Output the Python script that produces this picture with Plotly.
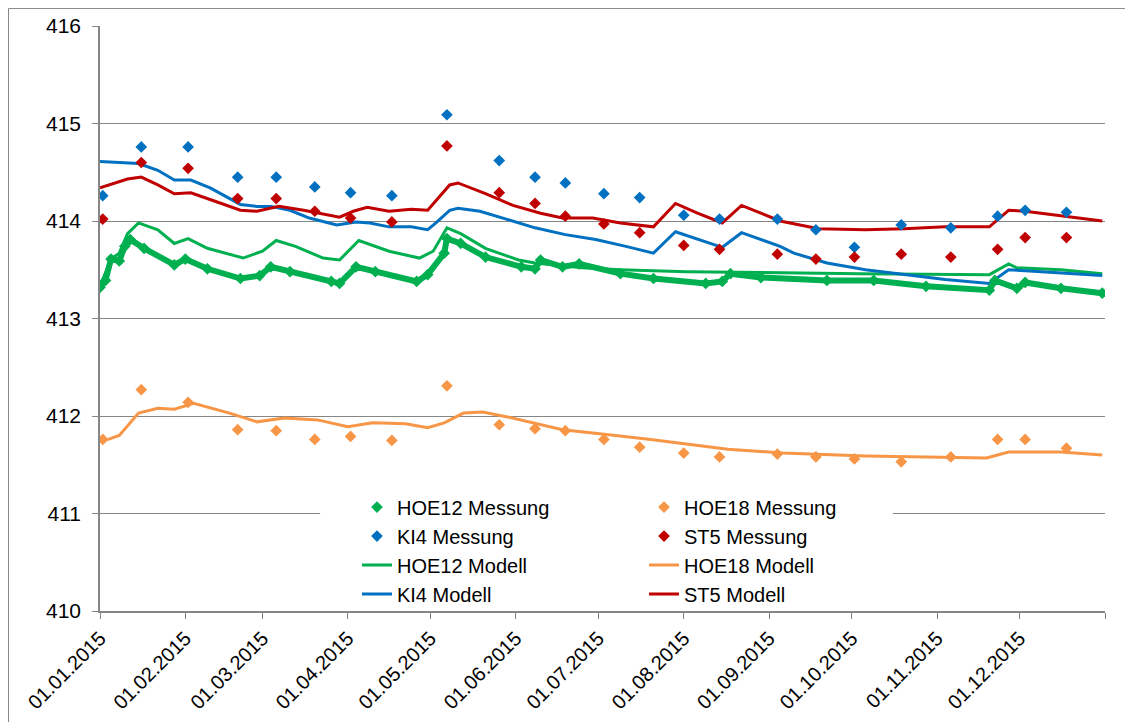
import plotly.graph_objects as go

###########################################################################################################################################################################
# Data

# dates of the single measurements (HOE18, KI4, ST5)
meas_dates = ['2015-01-02', '2015-01-16', '2015-02-02', '2015-02-20', '2015-03-06', '2015-03-20',
              '2015-04-02', '2015-04-17', '2015-05-07', '2015-05-26', '2015-06-08', '2015-06-19',
              '2015-07-03', '2015-07-16', '2015-08-01', '2015-08-14', '2015-09-04', '2015-09-18',
              '2015-10-02', '2015-10-19', '2015-11-06', '2015-11-23', '2015-12-03', '2015-12-18']
hoe18_meas = [411.76, 412.27, 412.14, 411.86, 411.85, 411.76, 411.79, 411.75, 412.31, 411.91, 411.87, 411.85,
              411.76, 411.68, 411.62, 411.58, 411.61, 411.58, 411.56, 411.53, 411.58, 411.76, 411.76, 411.67]
ki4_meas = [414.26, 414.76, 414.76, 414.45, 414.45, 414.35, 414.29, 414.26, 415.09, 414.62, 414.45, 414.39,
            414.28, 414.24, 414.06, 414.02, 414.02, 413.91, 413.73, 413.96, 413.93, 414.05, 414.11, 414.09]
st5_meas = [414.02, 414.60, 414.54, 414.23, 414.23, 414.10, 414.03, 413.99, 414.77, 414.29, 414.18, 414.05,
            413.97, 413.88, 413.75, 413.71, 413.66, 413.61, 413.63, 413.66, 413.63, 413.71, 413.83, 413.83]

# HOE12 is a logger series (dense)
hoe12_meas_dates = ['2015-01-01', '2015-01-03', '2015-01-05', '2015-01-08', '2015-01-10', '2015-01-12',
                    '2015-01-17', '2015-01-28', '2015-02-01', '2015-02-09', '2015-02-21', '2015-02-28',
                    '2015-03-04', '2015-03-11', '2015-03-26', '2015-03-29', '2015-04-04', '2015-04-11',
                    '2015-04-26', '2015-04-30', '2015-05-06', '2015-05-07', '2015-05-12', '2015-05-21',
                    '2015-06-03', '2015-06-08', '2015-06-10', '2015-06-18', '2015-06-24', '2015-07-09',
                    '2015-07-21', '2015-08-09', '2015-08-15', '2015-08-18', '2015-08-29', '2015-09-22',
                    '2015-10-09', '2015-10-28', '2015-11-20', '2015-11-22', '2015-11-30', '2015-12-03',
                    '2015-12-16', '2015-12-31']
hoe12_meas = [413.32, 413.39, 413.61, 413.59, 413.74, 413.81, 413.72, 413.55, 413.61, 413.51, 413.41, 413.44,
              413.53, 413.48, 413.38, 413.36, 413.53, 413.48, 413.38, 413.45, 413.67, 413.82, 413.77, 413.63,
              413.53, 413.51, 413.60, 413.53, 413.56, 413.46, 413.41, 413.36, 413.38, 413.46, 413.42, 413.39,
              413.39, 413.33, 413.29, 413.39, 413.31, 413.37, 413.31, 413.26]

# model results
hoe12_mod_dates = ['2015-01-01', '2015-01-05', '2015-01-08', '2015-01-11', '2015-01-15', '2015-01-22',
                   '2015-01-28', '2015-02-02', '2015-02-09', '2015-02-22', '2015-03-01', '2015-03-06',
                   '2015-03-13', '2015-03-23', '2015-03-29', '2015-04-05', '2015-04-16', '2015-04-27',
                   '2015-05-02', '2015-05-07', '2015-05-12', '2015-05-21', '2015-06-02', '2015-06-08',
                   '2015-06-25', '2015-07-09', '2015-08-02', '2015-08-29', '2015-10-04', '2015-11-20',
                   '2015-11-24', '2015-11-27', '2015-11-30', '2015-12-16', '2015-12-31']
hoe12_mod = [413.33, 413.61, 413.67, 413.87, 413.98, 413.91, 413.77, 413.82, 413.72, 413.62, 413.69, 413.80,
             413.74, 413.62, 413.60, 413.80, 413.69, 413.62, 413.69, 413.93, 413.87, 413.72, 413.60, 413.57,
             413.52, 413.50, 413.48, 413.47, 413.46, 413.45, 413.51, 413.56, 413.52, 413.50, 413.46]

hoe18_mod_dates = ['2015-01-01', '2015-01-04', '2015-01-08', '2015-01-15', '2015-01-22', '2015-01-28',
                   '2015-02-04', '2015-02-17', '2015-02-27', '2015-03-09', '2015-03-21', '2015-04-01',
                   '2015-04-10', '2015-04-22', '2015-04-30', '2015-05-06', '2015-05-13', '2015-05-20',
                   '2015-05-29', '2015-06-07', '2015-06-18', '2015-07-04', '2015-07-20', '2015-08-17',
                   '2015-09-06', '2015-10-06', '2015-11-19', '2015-11-27', '2015-12-16', '2015-12-31']
hoe18_mod = [411.75, 411.76, 411.80, 412.03, 412.08, 412.07, 412.13, 412.03, 411.94, 411.98, 411.96, 411.89,
             411.93, 411.92, 411.88, 411.93, 412.03, 412.04, 411.99, 411.93, 411.86, 411.81, 411.76, 411.66,
             411.62, 411.59, 411.57, 411.63, 411.63, 411.60]

ki4_mod_dates = ['2015-01-01', '2015-01-09', '2015-01-15', '2015-01-22', '2015-01-28', '2015-02-03',
                 '2015-02-10', '2015-02-21', '2015-02-27', '2015-03-04', '2015-03-11', '2015-03-18',
                 '2015-03-28', '2015-04-04', '2015-04-09', '2015-04-16', '2015-04-24', '2015-04-30',
                 '2015-05-03', '2015-05-08', '2015-05-11', '2015-05-19', '2015-05-27', '2015-06-08',
                 '2015-06-19', '2015-06-30', '2015-07-11', '2015-07-21', '2015-07-29', '2015-08-15',
                 '2015-08-22', '2015-09-05', '2015-09-10', '2015-09-22', '2015-10-06', '2015-10-21',
                 '2015-11-04', '2015-11-20', '2015-11-27', '2015-12-03', '2015-12-31']
ki4_mod = [414.61, 414.60, 414.59, 414.52, 414.42, 414.42, 414.34, 414.17, 414.15, 414.15, 414.11, 414.03,
           413.96, 413.99, 413.98, 413.94, 413.94, 413.91, 413.98, 414.11, 414.13, 414.10, 414.03, 413.93,
           413.86, 413.81, 413.74, 413.67, 413.89, 413.73, 413.88, 413.74, 413.67, 413.57, 413.50, 413.45,
           413.40, 413.36, 413.50, 413.49, 413.44]

st5_mod_dates = ['2015-01-01', '2015-01-07', '2015-01-11', '2015-01-16', '2015-01-22', '2015-01-28',
                 '2015-02-03', '2015-02-11', '2015-02-21', '2015-02-27', '2015-03-07', '2015-03-16',
                 '2015-03-29', '2015-04-03', '2015-04-08', '2015-04-16', '2015-04-24', '2015-04-30',
                 '2015-05-08', '2015-05-11', '2015-05-21', '2015-05-31', '2015-06-10', '2015-06-18',
                 '2015-06-29', '2015-07-09', '2015-07-21', '2015-07-29', '2015-08-06', '2015-08-15',
                 '2015-08-22', '2015-08-29', '2015-09-05', '2015-09-19', '2015-10-06', '2015-10-20',
                 '2015-11-04', '2015-11-20', '2015-11-27', '2015-12-03', '2015-12-19', '2015-12-31']
st5_mod = [414.34, 414.39, 414.43, 414.45, 414.37, 414.28, 414.29, 414.21, 414.11, 414.10, 414.15, 414.11,
           414.04, 414.10, 414.14, 414.10, 414.12, 414.11, 414.37, 414.39, 414.28, 414.16, 414.08, 414.03,
           414.03, 413.98, 413.94, 414.18, 414.08, 413.98, 414.16, 414.08, 414.00, 413.92, 413.91, 413.92,
           413.94, 413.94, 414.11, 414.10, 414.04, 414.00]

# x axis ticks
month_ticks = ['2015-%02d-01' % m for m in range(1, 13)] + ['2016-01-01']
month_labels = ['01.%02d.2015' % m for m in range(1, 13)] + ['']

###########################################################################################################################################################################
# Style
green = '#00B050'
blue = '#0070C0'
red = '#C00000'
orange = '#F79646'
gray = '#868686'
font = 'Liberation Sans, Arial, sans-serif'

fig = go.Figure()

# model lines first, measurements are drawn on top
# left legend column: HOE12 / KI4, right column: HOE18 / ST5
for name, x, y, color, leg, rank in [('HOE12 Modell', hoe12_mod_dates, hoe12_mod, green, 'legend', 3),
                                     ('HOE18 Modell', hoe18_mod_dates, hoe18_mod, orange, 'legend2', 3),
                                     ('KI4 Modell', ki4_mod_dates, ki4_mod, blue, 'legend', 4),
                                     ('ST5 Modell', st5_mod_dates, st5_mod, red, 'legend2', 4)]:
    fig.add_trace(go.Scatter(x=x, y=y, name=name, mode='lines', legend=leg, legendrank=rank,
                             line=dict(color=color, width=3)))

# dense HOE12 logger -> thick band
fig.add_trace(go.Scatter(x=hoe12_meas_dates, y=hoe12_meas, mode='lines', showlegend=False,
                         line=dict(color=green, width=6), hoverinfo='skip'))

for name, x, y, color, leg, rank in [('HOE12 Messung', hoe12_meas_dates, hoe12_meas, green, 'legend', 1),
                                     ('HOE18 Messung', meas_dates, hoe18_meas, orange, 'legend2', 1),
                                     ('KI4 Messung', meas_dates, ki4_meas, blue, 'legend', 2),
                                     ('ST5 Messung', meas_dates, st5_meas, red, 'legend2', 2)]:
    fig.add_trace(go.Scatter(x=x, y=y, name=name, mode='markers', legend=leg, legendrank=rank,
                             marker=dict(symbol='diamond', size=9, color=color)))

legend_style = dict(orientation='v', yanchor='top', xanchor='left', y=0.211,
                    bgcolor='rgba(0,0,0,0)', font=dict(size=20), tracegroupgap=0)

# page body adds 8px, margins are set so the plot area lands where it is in the original
fig.update_layout(
    width=1133, height=722,
    margin=dict(l=92, r=36, t=18, b=119),
    paper_bgcolor='white', plot_bgcolor='white',
    font=dict(family=font, size=20, color='black'),
    legend=dict(legend_style, x=0.2557),
    legend2=dict(legend_style, x=0.5413),
    xaxis=dict(
        type='date',
        range=['2015-01-01', '2016-01-01'],
        tickvals=month_ticks, ticktext=month_labels,
        tickangle=-45,
        ticks='outside', ticklen=6, tickcolor=gray,
        showline=True, linecolor=gray, linewidth=1.5,
        showgrid=False, zeroline=False,
        tickfont=dict(size=20),
        automargin=False,
    ),
    yaxis=dict(
        range=[410, 416],
        tickvals=[410, 411, 412, 413, 414, 415, 416],
        ticks='outside', ticklen=6, tickcolor=gray,
        ticklabelstandoff=7,
        showline=True, linecolor=gray, linewidth=1.5,
        showgrid=True, gridcolor=gray, gridwidth=1,
        zeroline=False,
        tickfont=dict(size=21),
        automargin=False,
    ),
    shapes=[
        # chart border
        dict(type='rect', xref='paper', yref='paper',
             x0=-0.091, x1=1.05, y0=-0.21, y1=1.03,
             line=dict(color=gray, width=1), fillcolor='rgba(0,0,0,0)'),
        # legend background
        dict(type='rect', xref='paper', yref='paper', layer='above',
             x0=0.219, x1=0.789, y0=0.007, y1=0.198,
             line=dict(width=0), fillcolor='white'),
    ],
)

fig.write_html('out.html')
